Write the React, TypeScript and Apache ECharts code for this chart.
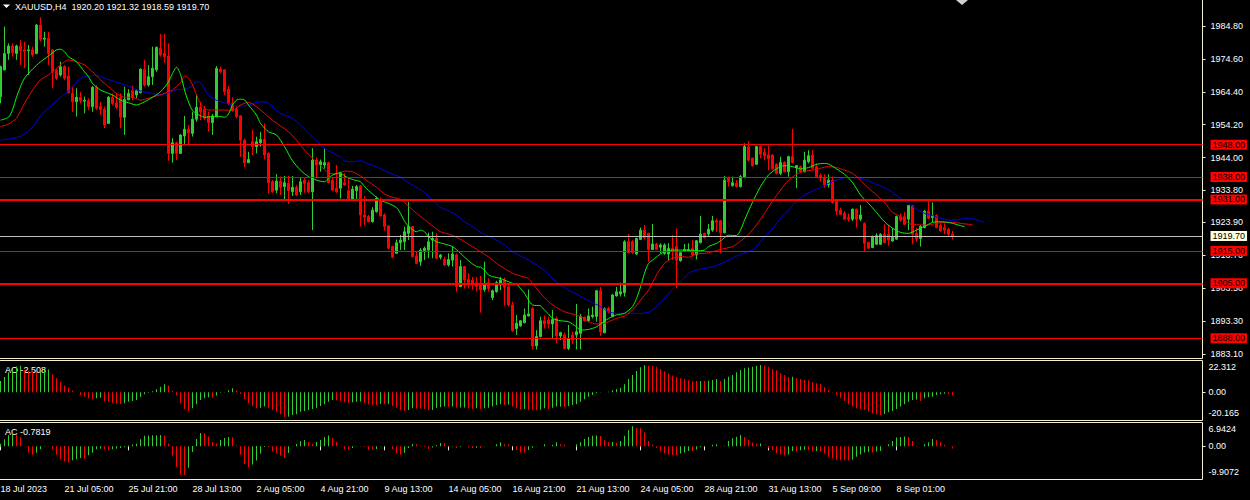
import React, { useEffect, useRef } from "react";
import * as echarts from "echarts";

// ---------------- data ----------------
const symbolName = "XAUUSD";
const timeframe = "H4";
const timeLabels = [
  "18 Jul 2023", "21 Jul 05:00", "25 Jul 21:00", "28 Jul 13:00", "2 Aug 05:00",
  "4 Aug 21:00", "9 Aug 13:00", "14 Aug 05:00", "16 Aug 21:00", "21 Aug 13:00",
  "24 Aug 05:00", "28 Aug 21:00", "31 Aug 13:00", "5 Sep 09:00", "8 Sep 01:00",
];
const barsPerLabel = 16;
const slotCount = 301;

const opens = [
  1962.9, 1971.2, 1976.3, 1978.6, 1976.3, 1978.6, 1977.4, 1977.1, 1977.4, 1976.3,
  1985.1, 1980.7, 1981.0, 1977.4, 1971.0, 1969.6, 1972.2, 1969.3, 1963.9, 1961.3,
  1962.7, 1961.5, 1961.6, 1959.8, 1965.8, 1959.8, 1959.0, 1954.6, 1962.7, 1961.0,
  1962.7, 1956.5, 1961.9, 1964.7, 1963.4, 1964.1, 1971.4, 1966.5, 1969.1, 1971.2,
  1977.9, 1976.3, 1975.5, 1945.3, 1948.6, 1945.3, 1950.7, 1952.8, 1951.5, 1955.9,
  1959.6, 1959.0, 1956.9, 1954.8, 1956.7, 1971.4, 1971.2, 1965.2, 1960.8, 1959.0,
  1956.9, 1949.4, 1942.4, 1948.9, 1947.4, 1948.6, 1949.6, 1945.3, 1936.5, 1933.9,
  1936.7, 1935.0, 1936.0, 1933.4, 1934.8, 1933.4, 1937.0, 1936.2, 1933.4, 1943.2,
  1941.7, 1941.7, 1942.4, 1937.0, 1934.5, 1934.5, 1936.2, 1933.7, 1931.0, 1933.7,
  1935.2, 1926.2, 1925.7, 1924.1, 1927.2, 1931.0, 1926.2, 1922.8, 1916.4, 1914.3,
  1917.6, 1917.9, 1920.5, 1922.6, 1913.5, 1911.7, 1915.1, 1915.3, 1918.4, 1919.0,
  1913.1, 1912.4, 1910.7, 1912.2, 1913.8, 1904.0, 1910.2, 1906.2, 1906.0, 1905.2,
  1904.5, 1903.1, 1905.2, 1900.6, 1902.4, 1905.0, 1906.0, 1903.9, 1898.3, 1891.0,
  1891.8, 1892.8, 1894.9, 1897.2, 1885.6, 1888.5, 1893.4, 1893.6, 1892.4, 1894.1,
  1888.7, 1889.0, 1884.8, 1889.0, 1889.0, 1889.5, 1894.5, 1893.4, 1894.7, 1894.7,
  1902.7, 1889.7, 1897.2, 1894.7, 1901.1, 1901.7, 1902.1, 1917.9, 1917.9, 1914.1,
  1918.6, 1921.5, 1920.5, 1915.5, 1917.2, 1916.2, 1914.3, 1914.1, 1915.8, 1916.4,
  1912.0, 1915.1, 1915.1, 1915.8, 1913.8, 1917.6, 1920.5, 1920.3, 1921.5, 1924.4,
  1924.4, 1920.7, 1937.6, 1935.3, 1936.0, 1935.0, 1937.8, 1947.4, 1943.8, 1941.9,
  1947.4, 1945.6, 1944.8, 1944.8, 1941.9, 1939.1, 1942.5, 1939.6, 1944.3, 1940.9,
  1941.2, 1939.6, 1942.7, 1944.8, 1941.2, 1938.4, 1937.6, 1935.5, 1937.0, 1930.5,
  1927.7, 1926.7, 1925.4, 1924.9, 1928.0, 1924.9, 1923.6, 1917.7, 1916.1, 1917.1,
  1917.1, 1920.2, 1920.2, 1918.1, 1918.7, 1925.7, 1925.7, 1924.9, 1929.1, 1920.5,
  1918.9, 1922.3, 1927.4, 1925.4, 1926.0, 1922.9, 1922.3, 1921.8, 1920.2,
];
const highs = [
  1972.5, 1984.6, 1979.4, 1979.4, 1979.0, 1980.5, 1979.9, 1978.9, 1978.4, 1985.4,
  1987.5, 1983.0, 1983.0, 1977.6, 1971.5, 1973.7, 1972.7, 1972.2, 1966.0, 1965.5,
  1964.4, 1962.9, 1962.4, 1966.2, 1966.5, 1961.3, 1959.8, 1963.1, 1963.9, 1963.9,
  1963.9, 1966.0, 1965.2, 1966.2, 1965.2, 1971.7, 1974.3, 1972.7, 1978.4, 1978.4,
  1982.3, 1982.3, 1979.4, 1950.0, 1948.9, 1951.3, 1956.9, 1954.1, 1958.2, 1963.4,
  1961.3, 1960.0, 1958.2, 1957.5, 1972.4, 1972.2, 1971.4, 1966.2, 1962.7, 1959.8,
  1957.2, 1949.9, 1945.8, 1952.7, 1950.5, 1952.0, 1954.6, 1945.6, 1937.0, 1938.9,
  1938.1, 1938.3, 1938.3, 1938.3, 1935.5, 1937.9, 1937.6, 1937.0, 1946.9, 1944.1,
  1943.4, 1946.9, 1942.7, 1937.9, 1941.7, 1939.6, 1939.1, 1937.9, 1935.2, 1935.5,
  1935.5, 1932.1, 1926.2, 1928.6, 1931.9, 1931.6, 1926.7, 1923.1, 1916.6, 1918.6,
  1920.0, 1922.6, 1930.3, 1922.8, 1914.8, 1915.9, 1916.4, 1920.7, 1921.0, 1920.5,
  1914.1, 1913.3, 1914.3, 1916.4, 1914.3, 1912.2, 1910.4, 1908.1, 1907.0, 1907.0,
  1907.3, 1911.7, 1906.5, 1903.1, 1905.8, 1907.0, 1906.8, 1904.5, 1899.3, 1895.2,
  1893.6, 1897.2, 1903.1, 1897.8, 1890.5, 1894.7, 1894.9, 1894.7, 1896.7, 1894.7,
  1890.0, 1889.7, 1892.1, 1890.0, 1898.6, 1895.5, 1894.7, 1897.2, 1897.8, 1902.9,
  1903.9, 1897.5, 1897.8, 1901.7, 1903.9, 1905.2, 1918.4, 1920.3, 1918.4, 1919.2,
  1922.3, 1923.1, 1920.7, 1923.4, 1917.6, 1917.4, 1917.4, 1917.4, 1920.0, 1922.0,
  1914.8, 1917.2, 1917.4, 1918.4, 1918.4, 1925.9, 1920.7, 1923.4, 1925.9, 1925.1,
  1924.6, 1938.3, 1938.1, 1938.1, 1937.0, 1938.6, 1948.4, 1949.1, 1944.0, 1947.7,
  1947.7, 1946.9, 1947.7, 1945.0, 1942.2, 1944.3, 1942.9, 1944.6, 1952.9, 1941.7,
  1941.5, 1945.8, 1946.3, 1946.3, 1942.2, 1939.1, 1938.8, 1938.8, 1938.1, 1930.8,
  1928.5, 1927.4, 1926.7, 1928.2, 1928.2, 1929.3, 1923.9, 1917.9, 1919.8, 1920.5,
  1920.5, 1923.3, 1923.1, 1922.1, 1926.0, 1926.7, 1927.2, 1929.3, 1929.3, 1922.3,
  1923.1, 1927.7, 1930.5, 1930.1, 1926.4, 1923.6, 1923.6, 1922.3, 1921.32,
];
const lows = [
  1960.8, 1971.0, 1974.3, 1975.3, 1974.3, 1972.7, 1971.7, 1969.6, 1975.3, 1976.0,
  1980.0, 1978.4, 1972.7, 1965.5, 1968.0, 1969.1, 1968.0, 1963.9, 1958.2, 1956.7,
  1960.8, 1957.7, 1958.7, 1958.2, 1958.7, 1957.2, 1953.1, 1954.4, 1960.3, 1959.0,
  1953.1, 1951.0, 1961.8, 1961.8, 1962.4, 1963.9, 1966.0, 1966.0, 1966.5, 1970.6,
  1975.3, 1973.4, 1943.0, 1942.4, 1943.3, 1945.1, 1947.9, 1947.9, 1950.5, 1955.1,
  1955.6, 1955.6, 1952.0, 1951.0, 1956.5, 1970.1, 1963.4, 1960.3, 1958.2, 1956.2,
  1944.3, 1941.0, 1942.3, 1944.8, 1945.3, 1947.4, 1943.4, 1932.9, 1933.1, 1932.9,
  1932.4, 1930.8, 1929.6, 1932.1, 1932.1, 1932.4, 1933.1, 1932.9, 1921.5, 1937.9,
  1939.6, 1940.6, 1936.0, 1933.7, 1933.1, 1931.3, 1935.2, 1930.8, 1930.8, 1931.0,
  1922.6, 1923.1, 1923.9, 1923.8, 1926.9, 1925.7, 1921.3, 1915.6, 1912.8, 1914.1,
  1915.3, 1915.3, 1918.4, 1913.0, 1911.0, 1910.4, 1912.2, 1912.8, 1912.8, 1912.4,
  1912.4, 1910.4, 1910.2, 1910.2, 1902.4, 1903.8, 1903.4, 1903.4, 1903.0, 1902.4,
  1895.9, 1902.4, 1902.4, 1899.8, 1902.1, 1902.9, 1898.0, 1897.8, 1890.0, 1889.0,
  1891.5, 1892.6, 1894.7, 1884.5, 1884.5, 1888.2, 1891.0, 1891.0, 1887.9, 1886.4,
  1887.4, 1884.6, 1884.3, 1886.2, 1884.5, 1884.5, 1893.1, 1893.1, 1894.1, 1893.1,
  1888.7, 1889.5, 1895.7, 1894.5, 1900.9, 1900.9, 1900.9, 1914.3, 1914.1, 1913.8,
  1918.4, 1918.6, 1911.7, 1915.3, 1915.3, 1914.3, 1913.8, 1912.2, 1912.2, 1903.4,
  1911.7, 1914.8, 1914.8, 1913.3, 1912.4, 1917.4, 1918.9, 1919.5, 1921.0, 1921.0,
  1914.3, 1920.5, 1935.0, 1935.0, 1934.7, 1934.7, 1937.6, 1942.7, 1941.2, 1941.7,
  1943.8, 1943.2, 1940.1, 1940.1, 1938.8, 1938.6, 1939.4, 1938.1, 1942.2, 1934.5,
  1939.4, 1939.4, 1942.2, 1940.5, 1937.8, 1936.5, 1934.7, 1934.7, 1929.8, 1926.2,
  1926.2, 1924.6, 1924.1, 1924.3, 1922.3, 1924.3, 1914.8, 1915.6, 1915.9, 1916.9,
  1916.9, 1917.4, 1916.7, 1917.9, 1918.5, 1924.1, 1923.1, 1921.5, 1917.1, 1917.9,
  1916.4, 1922.1, 1924.9, 1923.9, 1922.1, 1921.0, 1920.2, 1919.5, 1918.59,
];
const closes = [
  1972.2, 1976.3, 1978.6, 1976.5, 1978.6, 1977.2, 1977.0, 1977.4, 1975.8, 1985.1,
  1980.7, 1981.0, 1976.3, 1970.6, 1968.6, 1972.2, 1968.6, 1964.1, 1961.3, 1962.7,
  1961.6, 1961.8, 1959.8, 1965.8, 1959.3, 1958.8, 1954.1, 1962.7, 1960.8, 1959.6,
  1956.5, 1962.1, 1963.9, 1962.7, 1964.7, 1971.4, 1966.5, 1969.1, 1971.7, 1978.2,
  1975.8, 1975.3, 1945.3, 1948.6, 1945.3, 1951.0, 1952.8, 1951.7, 1955.9, 1959.6,
  1958.2, 1956.2, 1954.8, 1956.9, 1971.7, 1970.6, 1964.4, 1960.8, 1958.7, 1956.7,
  1949.4, 1942.4, 1943.4, 1947.4, 1948.9, 1949.6, 1944.8, 1936.2, 1933.4, 1936.7,
  1934.8, 1936.2, 1933.7, 1934.8, 1932.4, 1936.5, 1936.0, 1933.4, 1943.2, 1941.7,
  1942.7, 1942.4, 1936.2, 1933.9, 1933.4, 1939.1, 1935.5, 1931.0, 1934.2, 1935.0,
  1926.2, 1925.5, 1924.1, 1927.7, 1931.3, 1925.9, 1922.6, 1915.9, 1913.1, 1917.6,
  1918.4, 1921.0, 1922.6, 1913.3, 1911.2, 1915.3, 1915.9, 1917.9, 1918.9, 1912.8,
  1913.8, 1910.7, 1912.4, 1914.1, 1904.0, 1910.2, 1906.0, 1905.2, 1904.8, 1904.0,
  1903.1, 1904.5, 1903.4, 1902.7, 1905.2, 1906.0, 1903.8, 1898.3, 1890.3, 1892.6,
  1893.4, 1895.2, 1895.5, 1885.6, 1888.5, 1893.4, 1892.4, 1892.4, 1893.8, 1888.7,
  1889.7, 1884.8, 1887.9, 1887.4, 1890.0, 1894.7, 1893.4, 1894.9, 1895.2, 1902.7,
  1890.0, 1897.2, 1896.2, 1901.4, 1902.4, 1902.4, 1917.9, 1914.5, 1914.5, 1918.9,
  1921.5, 1919.2, 1915.5, 1917.2, 1915.5, 1916.9, 1916.9, 1915.8, 1914.8, 1912.2,
  1914.5, 1915.5, 1915.5, 1913.8, 1918.2, 1920.3, 1919.2, 1921.8, 1924.4, 1924.0,
  1920.7, 1937.0, 1936.5, 1936.2, 1935.0, 1938.1, 1947.4, 1943.2, 1941.5, 1947.4,
  1945.0, 1944.6, 1943.6, 1940.5, 1939.1, 1942.5, 1939.6, 1944.3, 1942.5, 1941.5,
  1939.6, 1943.2, 1944.6, 1940.7, 1938.1, 1937.8, 1935.5, 1937.0, 1930.1, 1927.4,
  1926.4, 1924.9, 1924.9, 1928.0, 1924.9, 1926.2, 1917.4, 1915.9, 1919.5, 1919.8,
  1920.2, 1917.7, 1918.4, 1919.2, 1925.7, 1924.6, 1923.3, 1929.1, 1920.2, 1918.7,
  1922.6, 1927.4, 1925.2, 1926.0, 1922.3, 1921.2, 1921.5, 1920.2, 1919.7,
];

// Alligator lines: [bar slot, price]
const jawLine = [
  [0, 1949.4], [4, 1950.2], [6, 1951.3], [8, 1953.4], [10, 1956.9], [12, 1959.3], [14, 1961.6],
  [16, 1963.7], [18, 1965.8], [20, 1968.6], [22, 1969.3], [24, 1969.5], [26, 1968.6], [28, 1967.8],
  [30, 1967.0], [32, 1966.2], [34, 1965.0], [36, 1964.4], [38, 1963.9], [40, 1963.4], [42, 1964.1],
  [44, 1965.0], [46, 1965.2], [48, 1966.2], [49, 1967.7], [50, 1967.2], [52, 1963.4], [54, 1961.8],
  [56, 1961.0], [58, 1960.3], [60, 1960.0], [62, 1960.3], [65, 1961.3], [67, 1960.8], [70, 1957.7],
  [73, 1956.2], [75, 1954.1], [77, 1951.5], [79, 1949.2], [81, 1946.9], [83, 1945.5], [85, 1944.1],
  [86, 1943.0], [88, 1942.7], [90, 1943.0], [92, 1942.0], [94, 1941.2], [96, 1939.9], [98, 1938.9],
  [100, 1937.9], [102, 1936.2], [104, 1934.8], [106, 1933.1], [108, 1930.8], [110, 1928.6],
  [112, 1927.5], [114, 1926.2], [116, 1924.1], [118, 1922.6], [120, 1920.8], [122, 1919.6],
  [124, 1918.4], [126, 1916.9], [128, 1914.8], [130, 1913.5], [132, 1912.2], [134, 1910.7],
  [136, 1908.9], [138, 1906.5], [140, 1904.5], [142, 1902.9], [144, 1901.7], [146, 1900.3],
  [148, 1899.0], [150, 1897.8], [152, 1896.2], [154, 1895.7], [156, 1895.7], [158, 1895.7],
  [160, 1895.7], [162, 1896.0], [164, 1897.8], [166, 1900.3], [168, 1903.1], [170, 1905.5],
  [172, 1908.1], [174, 1909.1], [176, 1909.6], [178, 1910.2], [180, 1911.0], [183, 1912.8],
  [185, 1914.0], [188, 1915.3], [189, 1916.4], [191, 1919.5], [193, 1921.9], [195, 1925.2],
  [197, 1927.7], [199, 1930.5], [201, 1932.4], [203, 1933.6], [205, 1934.7], [207, 1936.0],
  [209, 1937.0], [211, 1937.8], [213, 1937.8], [215, 1937.6], [217, 1936.7], [219, 1935.7],
  [221, 1934.7], [223, 1933.2], [225, 1931.4], [227, 1929.8], [229, 1928.0], [231, 1926.7],
  [233, 1926.0], [235, 1925.2], [237, 1924.6], [239, 1924.6], [241, 1925.2], [243, 1925.0],
  [245, 1924.3], [246, 1923.9],
];
const teethLine = [
  [0, 1953.6], [2, 1954.4], [4, 1956.2], [6, 1960.8], [8, 1964.9], [10, 1968.1], [12, 1969.6],
  [14, 1971.7], [16, 1973.7], [17, 1974.3], [19, 1973.7], [21, 1972.7], [23, 1970.6], [25, 1968.1],
  [27, 1966.0], [29, 1963.9], [31, 1962.7], [33, 1962.7], [35, 1961.8], [37, 1962.4], [39, 1963.1],
  [41, 1963.9], [43, 1965.0], [45, 1967.2], [46, 1969.3], [47, 1968.6], [48, 1966.5], [50, 1960.8],
  [52, 1958.75], [54, 1958.75], [56, 1958.75], [58, 1958.6], [60, 1960.3], [62, 1961.1],
  [64, 1959.8], [66, 1957.7], [68, 1955.6], [70, 1953.8], [72, 1952.0], [74, 1949.4], [76, 1946.3],
  [78, 1943.8], [80, 1941.5], [82, 1939.3], [84, 1938.9], [86, 1939.8], [88, 1939.6], [90, 1938.3],
  [92, 1936.5], [94, 1934.8], [96, 1932.7], [98, 1931.7], [100, 1931.0], [102, 1929.0],
  [104, 1926.7], [106, 1924.8], [108, 1922.8], [110, 1921.0], [112, 1920.3], [114, 1919.3],
  [116, 1917.9], [118, 1916.4], [120, 1914.8], [122, 1913.2], [124, 1911.2], [126, 1909.6],
  [128, 1908.1], [130, 1907.3], [132, 1906.5], [133, 1905.0], [135, 1901.9], [137, 1899.3],
  [139, 1897.5], [141, 1896.2], [143, 1895.5], [145, 1894.7], [147, 1893.1], [149, 1892.4],
  [151, 1892.6], [152, 1893.1], [154, 1894.1], [156, 1894.9], [158, 1896.7], [160, 1899.8],
  [162, 1902.9], [164, 1907.6], [166, 1911.2], [168, 1912.8], [170, 1913.3], [172, 1913.1],
  [174, 1914.1], [176, 1914.3], [178, 1914.8], [180, 1915.5], [183, 1916.4], [185, 1918.1],
  [187, 1920.2], [189, 1923.1], [191, 1926.7], [193, 1930.5], [195, 1933.9], [197, 1937.0],
  [199, 1938.8], [201, 1939.8], [203, 1940.1], [205, 1940.7], [207, 1941.2], [209, 1940.9],
  [211, 1940.1], [213, 1939.1], [215, 1937.0], [217, 1934.5], [219, 1932.4], [221, 1930.1],
  [223, 1927.0], [225, 1925.7], [227, 1923.6], [228, 1923.3], [230, 1923.1], [232, 1923.1],
  [234, 1923.6], [236, 1923.9], [238, 1923.9], [240, 1923.6], [242, 1923.3], [243, 1923.1],
];
const lipsLine = [
  [0, 1955.6], [2, 1956.5], [3, 1958.8], [4, 1962.7], [5, 1966.0], [6, 1968.6], [8, 1971.4],
  [10, 1973.7], [12, 1975.5], [14, 1977.4], [15, 1977.6], [16, 1976.8], [17, 1975.3], [19, 1973.7],
  [21, 1970.6], [22, 1969.1], [23, 1967.0], [25, 1964.9], [26, 1964.4], [28, 1963.4], [30, 1961.8],
  [32, 1961.0], [34, 1960.3], [36, 1961.3], [38, 1962.7], [40, 1964.4], [42, 1967.5], [43, 1970.1],
  [44, 1972.0], [45, 1969.8], [46, 1965.0], [47, 1961.2], [48, 1958.6], [49, 1957.7], [51, 1956.5],
  [53, 1956.7], [55, 1956.7], [56, 1956.5], [57, 1957.5], [58, 1960.3], [59, 1961.8], [60, 1962.1],
  [61, 1961.9], [62, 1960.3], [64, 1957.2], [65, 1954.6], [67, 1952.0], [69, 1951.0], [71, 1947.4],
  [73, 1943.0], [75, 1940.1], [77, 1938.1], [79, 1937.0], [81, 1936.5], [82, 1937.6], [83, 1938.6],
  [85, 1939.3], [86, 1938.3], [88, 1937.2], [90, 1936.5], [91, 1935.0], [93, 1932.7], [95, 1930.8],
  [97, 1929.8], [99, 1928.5], [100, 1926.7], [101, 1924.3], [102, 1922.7], [104, 1921.0],
  [105, 1921.5], [106, 1921.0], [107, 1919.5], [109, 1917.9], [111, 1917.2], [113, 1916.4],
  [115, 1914.3], [117, 1912.0], [119, 1910.2], [120, 1910.0], [121, 1909.1], [122, 1907.6],
  [123, 1907.1], [125, 1906.5], [127, 1905.5], [128, 1905.0], [129, 1904.8], [130, 1903.4],
  [131, 1901.9], [132, 1899.8], [133, 1898.3], [135, 1898.0], [136, 1896.7], [137, 1895.5],
  [138, 1894.1], [140, 1893.4], [142, 1893.1], [144, 1891.5], [145, 1890.5], [147, 1890.7],
  [149, 1891.5], [150, 1892.4], [152, 1894.1], [154, 1895.2], [156, 1895.7], [158, 1897.8],
  [159, 1900.3], [160, 1903.9], [161, 1908.1], [162, 1911.2], [163, 1912.2], [165, 1914.1],
  [166, 1914.8], [168, 1915.3], [170, 1915.3], [172, 1915.3], [174, 1915.1], [176, 1915.3],
  [177, 1916.4], [179, 1917.4], [180, 1918.1], [182, 1919.9], [184, 1919.8], [185, 1921.5],
  [186, 1924.6], [188, 1930.1], [190, 1935.0], [192, 1938.6], [194, 1940.5], [196, 1941.5],
  [198, 1941.2], [200, 1940.5], [202, 1940.9], [204, 1941.9], [206, 1942.2], [207, 1942.0],
  [209, 1940.5], [211, 1938.8], [213, 1936.3], [215, 1932.4], [217, 1929.8], [219, 1927.0],
  [221, 1924.1], [223, 1922.1], [225, 1920.8], [227, 1920.5], [229, 1921.5], [231, 1922.6],
  [233, 1923.9], [235, 1924.1], [237, 1923.9], [238, 1923.6], [240, 1922.9], [241, 1922.6],
];

const levelPrices = [1948, 1938, 1931, 1915, 1905, 1888];
const priceTicks = [1883.1, 1893.3, 1903.5, 1913.7, 1923.9, 1933.8, 1944.0, 1954.2, 1964.4, 1974.6, 1984.8];
const priceRange = [1881.69, 1993.33];
const aoRange = [-23.04, 25.98];
const acRange = [-11.45, 8.21];

const aoValues = [
  9.3, 12.6, 16.4, 19.1, 21.0, 21.6, 18.3, 17.5, 16.9, 16.4,
  17.5, 18.3, 18.6, 14.8, 11.5, 8.7, 5.5, 3.8, 1.4, 0.1,
  -2.2, -3.6, -4.9, -5.7, -4.9, -4.4, -7.1, -7.7, -8.7, -9.3,
  -9.6, -9.0, -7.7, -7.1, -6.3, -3.8, -1.6, -0.3, 0.8, 2.5,
  4.6, 6.5, 5.4, 1.1, -2.7, -9.0, -13.6, -15.3, -13.1, -9.8,
  -6.3, -4.9, -4.1, -4.4, -2.7, -0.4, 0.3, 1.6, 3.3, 1.6,
  -1.4, -5.5, -9.0, -11.2, -13.1, -12.6, -11.7, -12.6, -14.5, -15.8,
  -18.0, -20.165, -20.0, -18.5, -18.0, -15.8, -15.3, -14.5, -13.6, -12.6,
  -11.2, -9.8, -7.7, -6.3, -6.4, -7.1, -8.2, -9.0, -8.2, -7.7,
  -7.6, -9.0, -9.8, -10.4, -10.45, -9.6, -9.7, -9.5, -11.2, -12.6,
  -14.5, -15.3, -14.4, -13.1, -13.2, -13.3, -13.6, -14.5, -14.4, -12.6,
  -12.3, -11.7, -11.8, -11.7, -12.6, -12.5, -12.4, -13.1, -13.6, -13.1,
  -13.6, -13.1, -12.6, -11.7, -10.4, -9.8, -10.4, -9.9, -11.5, -13.1,
  -13.9, -13.7, -14.5, -14.6, -14.7, -14.2, -13.1, -13.9, -12.6, -11.7,
  -11.5, -12.0, -11.2, -10.4, -9.8, -7.7, -5.7, -3.6, -2.2, -0.8,
  -0.1, 0.1, 0.5, 1.6, 2.7, 3.8, 6.6, 10.9, 14.2, 17.5,
  20.5, 22.0, 21.6, 21.5, 20.8, 19.1, 16.9, 15.6, 13.7, 12.6,
  11.5, 10.9, 9.8, 9.3, 9.2, 9.3, 9.25, 9.4, 10.1, 10.9,
  9.3, 10.9, 12.8, 14.2, 16.4, 18.3, 19.7, 20.2, 20.8, 21.6,
  22.312, 21.6, 20.8, 19.1, 18.0, 15.6, 14.2, 12.6, 12.7, 11.5,
  10.9, 10.1, 9.8, 8.2, 7.4, 6.6, 4.1, 1.9, -0.1, -2.2,
  -4.9, -7.1, -9.8, -11.7, -13.1, -13.7, -14.5, -15.8, -17.2, -18.0,
  -18.6, -17.8, -16.4, -15.3, -13.7, -11.7, -9.8, -7.7, -6.3, -5.9,
  -7.1, -4.9, -4.1, -3.6, -2.2, -1.6, -1.1, -1.6, -2.508,
];
const acValues = [
  0.9, 2.4, 3.8, 4.3, 3.9, 3.1, 0.1, -2.2, -2.9, -2.2,
  -1.0, -0.1, 0.1, -1.0, -2.9, -4.5, -5.2, -5.6, -4.8, -4.5,
  -4.0, -4.3, -3.1, -2.2, -1.0, -0.8, -1.0, -1.4, -1.0, -0.8,
  -0.6, -0.2, 0.3, 0.6, 0.9, 2.4, 3.6, 3.7, 3.8, 3.85,
  3.9, 3.75, 1.0, -3.2, -7.1, -9.8, -9.9072, -7.4, -2.0, 2.5,
  4.6, 4.5, 3.4, 1.5, 1.0, 2.2, 2.9, 3.2, 3.1, 0.3,
  -2.9, -6.1, -7.2, -6.3, -4.9, -2.6, -0.2, -0.3, -1.7, -2.3,
  -3.2, -4.0, -2.3, -0.05, 0.8, 1.7, 2.2, 1.5, 0.8, 1.5,
  2.2, 3.2, 3.7, 2.9, 1.5, -0.1, -0.9, -1.15, -0.6, -0.1,
  0.1, -0.2, -1.15, -1.2, -0.9, -0.1, -0.05, 0.0, -0.9, -2.3,
  -2.9, -2.3, -0.6, 0.8, 0.75, -0.1, -0.2, -0.9, -0.4, 0.4,
  1.1, 1.05, -0.1, -0.05, -0.6, -0.2, 0.0, -0.4, -0.6, -0.5,
  -0.6, -0.1, 0.0, 0.1, 0.7, 1.4, 0.7, 0.65, 0.0, -1.3,
  -2.1, -2.2, -1.3, -0.5, -0.1, 0.05, 0.7, 0.0, 0.5, 1.4,
  0.7, 0.5, 0.1, 0.0, 0.7, 1.4, 2.5, 3.2, 3.6, 3.7,
  3.55, 2.1, 1.4, 1.45, 1.15, 1.8, 3.6, 5.6, 6.9424, 6.3,
  6.2, 4.8, 1.8, 0.5, -0.5, -1.8, -2.5, -2.8, -3.0, -3.05,
  -2.5, -2.1, -1.6, -1.65, -1.1, -0.2, -0.1, 0.0, 0.5, 0.7,
  0.1, 0.15, 1.8, 2.8, 3.3, 3.9, 3.2, 2.2, 1.3, 0.9,
  1.0, 0.0, -0.7, -1.4, -2.4, -2.8, -3.2, -2.8, -1.6, -1.8,
  -1.4, -1.2, -1.3, -1.8, -1.6, -1.85, -2.5, -3.6, -4.1, -4.7,
  -4.8, -4.85, -4.9, -4.6, -3.6, -2.8, -2.1, -2.0, -2.1, -1.8,
  -1.6, 0.0, 0.7, 1.8, 3.0, 3.2, 3.4, 3.2, 1.8, 0.2,
  0.0, 0.7, 1.4, 2.5, 2.1, 1.4, 0.5, 0.0, -0.7819,
];

// ---------------- styles ----------------
const FONT = "'Liberation Sans', Arial, sans-serif";
const TEXT = "#ffffff";
const FRAME = "#f3efd2";
const BULL = "#32cd32";
const BEAR = "#ff0000";
const BID_LINE = "#c0c0c0";
const BID_BOX = "#fffee0";
const THICK_LEVELS = [1931, 1905];

function histColors(vals: number[]) {
  let up = true;
  return vals.map((v, i) => {
    if (i > 0) {
      if (v > vals[i - 1]) up = true;
      else if (v < vals[i - 1]) up = false;
    }
    return up ? BULL : BEAR;
  });
}

function extremaAxisLabel(vals: number[], digits: number, padHi: number, padLo: number) {
  const hi = Math.max(...vals);
  const lo = Math.min(...vals);
  const base = { color: TEXT, fontSize: 9, fontFamily: FONT, lineHeight: 10 };
  return {
    show: true,
    customValues: [lo, 0, hi],
    margin: 6,
    formatter: (v: number) =>
      v === 0 ? "{m|0.00}" : v === hi ? `{h|${hi.toFixed(digits)}}` : `{l|${lo.toFixed(digits)}}`,
    rich: {
      m: { ...base },
      h: { ...base, padding: [padHi, 0, 0, 0] },
      l: { ...base, padding: [0, 0, padLo, 0] },
    },
    ...base,
  };
}

function buildOption() {
  const last = closes.length - 1;
  const slots = Array.from({ length: slotCount }, (_, i) => String(i));
  const labelInterval = (index: number) =>
    index % barsPerLabel === 0 && index / barsPerLabel < timeLabels.length;
  const gridBase = {
    left: -1.5,
    width: slotCount * 4,
    show: true,
    borderColor: FRAME,
    borderWidth: 1,
    backgroundColor: "transparent",
    containLabel: false,
    outerBoundsMode: "none",
  };
  const aoColors = histColors(aoValues);
  const acColors = histColors(acValues);
  const title = `${symbolName},${timeframe}  ${opens[last].toFixed(2)} ${highs[last].toFixed(2)} ${lows[last].toFixed(2)} ${closes[last].toFixed(2)}`;

  const levelLabel = (bg: string) => ({
    show: true,
    position: "end",
    distance: 8,
    formatter: (p: any) => Number(p.value).toFixed(2),
    color: "#000000",
    backgroundColor: bg,
    padding: [0, 2, 0, 2],
    fontSize: 9,
    lineHeight: 10,
    fontFamily: FONT,
  });

  const lineSeries = (data: number[][], color: string) => ({
    type: "line",
    xAxisIndex: 0,
    yAxisIndex: 0,
    data,
    symbol: "none",
    showSymbol: false,
    smooth: 0.25,
    silent: true,
    z: 3,
    lineStyle: { color, width: 1 },
    emphasis: { disabled: true },
  });

  return {
    animation: false,
    backgroundColor: "#000000",
    textStyle: { fontFamily: FONT },
    grid: [
      { ...gridBase, top: -1.5, height: 360 },
      { ...gridBase, top: 360.5, height: 60 },
      { ...gridBase, top: 422.5, height: 57 },
    ],
    xAxis: [0, 1, 2].map((g) => ({
      type: "category",
      gridIndex: g,
      data: slots,
      boundaryGap: true,
      axisLine: { show: false },
      splitLine: { show: false },
      axisTick: {
        show: g === 2,
        interval: labelInterval,
        alignWithLabel: true,
        length: 4,
        lineStyle: { color: FRAME, width: 1 },
      },
      axisLabel: {
        show: g === 2,
        interval: labelInterval,
        formatter: (v: string) => timeLabels[Number(v) / barsPerLabel] ?? "",
        align: "left",
        margin: 4,
        color: TEXT,
        fontSize: 9,
        lineHeight: 11,
        fontFamily: FONT,
      },
    })),
    yAxis: [
      {
        type: "value",
        gridIndex: 0,
        position: "right",
        min: priceRange[0],
        max: priceRange[1],
        splitLine: { show: false },
        axisLine: { show: false },
        axisTick: { show: true, customValues: priceTicks, length: 3, lineStyle: { color: FRAME } },
        axisLabel: {
          show: true,
          customValues: priceTicks,
          formatter: (v: number) => v.toFixed(2),
          color: TEXT,
          fontSize: 9,
          fontFamily: FONT,
          margin: 8,
        },
      },
      {
        type: "value",
        gridIndex: 1,
        position: "right",
        min: aoRange[0],
        max: aoRange[1],
        splitLine: { show: false },
        axisLine: { show: false },
        axisTick: { show: true, customValues: [0], length: 3, lineStyle: { color: FRAME } },
        axisLabel: extremaAxisLabel(aoValues, 3, 4, 8),
      },
      {
        type: "value",
        gridIndex: 2,
        position: "right",
        min: acRange[0],
        max: acRange[1],
        splitLine: { show: false },
        axisLine: { show: false },
        axisTick: { show: true, customValues: [0], length: 3, lineStyle: { color: FRAME } },
        axisLabel: extremaAxisLabel(acValues, 4, 5, 6),
      },
    ],
    series: [
      {
        type: "candlestick",
        xAxisIndex: 0,
        yAxisIndex: 0,
        data: opens.map((o, i) => [o, closes[i], lows[i], highs[i]]),
        barWidth: 2,
        clip: false,
        silent: true,
        z: 2,
        itemStyle: {
          color: BULL,
          color0: BEAR,
          borderColor: BULL,
          borderColor0: BEAR,
          borderColorDoji: BULL,
          borderWidth: 1,
        },
        emphasis: { disabled: true },
        markLine: {
          silent: true,
          symbol: ["none", "none"],
          animation: false,
          emphasis: { disabled: true },
          data: [
            ...levelPrices.map((v) => ({
              yAxis: v,
              lineStyle: { color: BEAR, width: THICK_LEVELS.includes(v) ? 2 : 1, type: "solid" },
              label: levelLabel(BEAR),
            })),
            {
              yAxis: closes[last],
              lineStyle: { color: BID_LINE, width: 1, type: "solid" },
              label: levelLabel(BID_BOX),
            },
          ],
        },
      },
      lineSeries(jawLine, "#0000ff"),
      lineSeries(teethLine, "#ff0000"),
      lineSeries(lipsLine, "#00ff00"),
      {
        type: "bar",
        xAxisIndex: 1,
        yAxisIndex: 1,
        barWidth: 1,
        silent: true,
        data: aoValues.map((v, i) => ({ value: v, itemStyle: { color: aoColors[i] } })),
      },
      {
        type: "bar",
        xAxisIndex: 2,
        yAxisIndex: 2,
        barWidth: 1,
        silent: true,
        data: acValues.map((v, i) => ({ value: v, itemStyle: { color: acColors[i] } })),
      },
    ],
    graphic: [
      {
        type: "polygon",
        silent: true,
        shape: { points: [[3, 4.5], [10, 4.5], [6.5, 8]] },
        style: { fill: TEXT },
      },
      {
        type: "text",
        silent: true,
        x: 15,
        y: 7,
        style: { text: title, fill: TEXT, font: `9px ${FONT}`, verticalAlign: "middle", textVerticalAlign: "middle" },
      },
      {
        type: "text",
        silent: true,
        x: 5,
        y: 369.5,
        style: {
          text: `AO ${aoValues[last].toFixed(3)}`,
          fill: TEXT,
          font: `9px ${FONT}`,
          verticalAlign: "middle",
          textVerticalAlign: "middle",
        },
      },
      {
        type: "text",
        silent: true,
        x: 5,
        y: 431.5,
        style: {
          text: `AC ${acValues[last].toFixed(4)}`,
          fill: TEXT,
          font: `9px ${FONT}`,
          verticalAlign: "middle",
          textVerticalAlign: "middle",
        },
      },
      {
        type: "polygon",
        silent: true,
        shape: { points: [[956, 0], [968, 0], [962, 5]] },
        style: { fill: "#d0d0d0" },
      },
    ],
  };
}

export default function App() {
  const ref = useRef<HTMLDivElement>(null);
  useEffect(() => {
    if (!ref.current) return;
    const chart = echarts.init(ref.current, null, { renderer: "svg" });
    chart.setOption(buildOption() as any);
    return () => chart.dispose();
  }, []);
  return (
    <div
      ref={ref}
      style={{ position: "fixed", left: 0, top: 0, width: 1250, height: 500, background: "#000" }}
    />
  );
}
